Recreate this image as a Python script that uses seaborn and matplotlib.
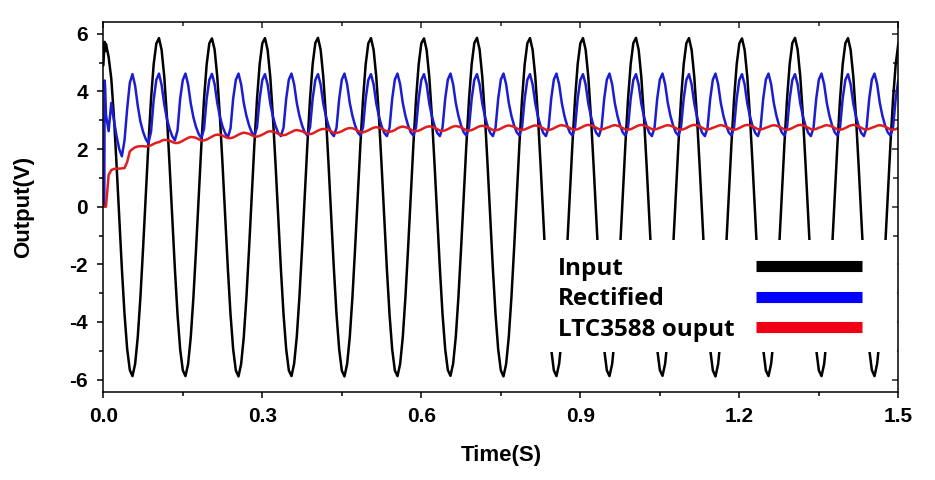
import numpy as np
import pandas as pd
import matplotlib
matplotlib.use("Agg")
import matplotlib.pyplot as plt
import seaborn as sns
from matplotlib.patches import Rectangle
from matplotlib.font_manager import FontProperties

# ---------------- data ----------------
series_names = ["Input", "Rectified", "LTC3588 ouput"]
series_colors = ["#000000", "#1c1cd0", "#e01e1e"]
legend_colors = ["#000000", "#0000ff", "#f00014"]
x_ticks = [0.0, 0.3, 0.6, 0.9, 1.2, 1.5]
x_tick_labels = ["0.0", "0.3", "0.6", "0.9", "1.2", "1.5"]
y_ticks = [-6, -4, -2, 0, 2, 4, 6]
y_tick_labels = ["-6", "-4", "-2", "0", "2", "4", "6"]

# sample times: a few start-up samples, then every 5 ms up to 1.5 s
head_time = [0.0, 0.0018, 0.0025, 0.0035]
sample_step = 0.005
sample_count = 300

input_head = [4.90, 5.50, 5.72, 5.40]
input_rows = [  # 20 samples per row (0.1 s)
    [5.65, 5.20, 4.45, 3.13, 1.45, -0.37, -2.15, -3.73, -4.94, -5.67, -5.88, -5.46, -4.52, -3.14, -1.45, 0.37, 2.15, 3.73, 4.94, 5.66],  # 01
    [5.85, 5.44, 4.51, 3.13, 1.45, -0.37, -2.15, -3.74, -4.95, -5.68, -5.88, -5.46, -4.52, -3.14, -1.46, 0.37, 2.15, 3.73, 4.94, 5.67],  # 02
    [5.84, 5.45, 4.51, 3.12, 1.44, -0.38, -2.16, -3.74, -4.95, -5.68, -5.89, -5.46, -4.53, -3.14, -1.45, 0.37, 2.16, 3.74, 4.95, 5.67],  # 03
    [5.85, 5.44, 4.50, 3.12, 1.45, -0.37, -2.15, -3.73, -4.94, -5.68, -5.88, -5.45, -4.52, -3.13, -1.45, 0.38, 2.16, 3.74, 4.95, 5.68],  # 04
    [5.86, 5.45, 4.51, 3.13, 1.45, -0.37, -2.16, -3.74, -4.95, -5.69, -5.89, -5.46, -4.52, -3.14, -1.46, 0.37, 2.15, 3.73, 4.94, 5.67],  # 05
    [5.85, 5.44, 4.51, 3.13, 1.44, -0.38, -2.16, -3.74, -4.95, -5.68, -5.88, -5.46, -4.53, -3.14, -1.45, 0.37, 2.15, 3.73, 4.94, 5.67],  # 06
    [5.84, 5.44, 4.50, 3.12, 1.45, -0.37, -2.15, -3.73, -4.94, -5.67, -5.87, -5.45, -4.52, -3.13, -1.45, 0.38, 2.16, 3.74, 4.95, 5.68],  # 07
    [5.86, 5.45, 4.51, 3.13, 1.45, -0.37, -2.16, -3.74, -4.95, -5.68, -5.89, -5.46, -4.52, -3.14, -1.46, 0.37, 2.15, 3.73, 4.94, 5.67],  # 08
    [5.85, 5.44, 4.51, 3.13, 1.45, -0.37, -2.15, -3.73, -4.94, -5.68, -5.88, -5.45, -4.52, -3.13, -1.45, 0.37, 2.15, 3.73, 4.95, 5.67],  # 09
    [5.85, 5.45, 4.51, 3.12, 1.44, -0.38, -2.16, -3.74, -4.95, -5.68, -5.88, -5.46, -4.53, -3.14, -1.45, 0.37, 2.16, 3.74, 4.95, 5.68],  # 10
    [5.86, 5.45, 4.51, 3.13, 1.45, -0.37, -2.15, -3.73, -4.94, -5.67, -5.87, -5.45, -4.52, -3.13, -1.45, 0.37, 2.15, 3.73, 4.94, 5.67],  # 11
    [5.85, 5.44, 4.50, 3.12, 1.45, -0.37, -2.16, -3.74, -4.95, -5.68, -5.89, -5.46, -4.52, -3.14, -1.46, 0.37, 2.15, 3.73, 4.94, 5.67],  # 12
    [5.84, 5.44, 4.51, 3.13, 1.45, -0.37, -2.15, -3.73, -4.94, -5.68, -5.88, -5.45, -4.52, -3.13, -1.45, 0.38, 2.16, 3.74, 4.95, 5.68],  # 13
    [5.86, 5.45, 4.51, 3.13, 1.44, -0.38, -2.16, -3.74, -4.95, -5.68, -5.88, -5.46, -4.53, -3.14, -1.45, 0.37, 2.15, 3.73, 4.94, 5.67],  # 14
    [5.85, 5.44, 4.51, 3.13, 1.45, -0.37, -2.15, -3.73, -4.94, -5.67, -5.88, -5.45, -4.52, -3.13, -1.45, 0.37, 2.15, 3.73, 4.94, 5.67],  # 15
]

rectified_head = [0.00, 0.00, 4.38, 4.10]
rectified_rows = [  # 10 samples per row (0.05 s)
    [3.20, 2.62, 3.60, 3.00, 2.45, 2.00, 1.75, 2.30, 3.40, 4.30],  # 01
    [4.60, 4.20, 3.50, 2.95, 2.60, 2.35, 2.20, 2.60, 3.70, 4.40],  # 02
    [4.62, 4.22, 3.55, 3.05, 2.70, 2.45, 2.30, 2.65, 3.75, 4.40],  # 03
    [4.62, 4.24, 3.58, 3.10, 2.76, 2.52, 2.38, 2.70, 3.75, 4.40],  # 04
    [4.61, 4.25, 3.60, 3.12, 2.78, 2.55, 2.40, 2.72, 3.75, 4.40],  # 05
    [4.62, 4.25, 3.60, 3.15, 2.82, 2.58, 2.47, 2.75, 3.75, 4.40],  # 06
    [4.60, 4.24, 3.58, 3.13, 2.80, 2.56, 2.45, 2.74, 3.74, 4.41],  # 07
    [4.62, 4.25, 3.60, 3.15, 2.82, 2.58, 2.47, 2.75, 3.75, 4.40],  # 08
    [4.60, 4.24, 3.58, 3.13, 2.80, 2.56, 2.45, 2.74, 3.74, 4.41],  # 09
    [4.62, 4.25, 3.60, 3.15, 2.82, 2.58, 2.47, 2.75, 3.75, 4.40],  # 10
    [4.60, 4.24, 3.58, 3.13, 2.80, 2.56, 2.45, 2.74, 3.74, 4.41],  # 11
    [4.62, 4.25, 3.60, 3.15, 2.82, 2.58, 2.47, 2.75, 3.75, 4.40],  # 12
    [4.60, 4.24, 3.58, 3.13, 2.80, 2.56, 2.45, 2.74, 3.74, 4.41],  # 13
    [4.62, 4.25, 3.60, 3.15, 2.82, 2.58, 2.47, 2.75, 3.75, 4.40],  # 14
    [4.60, 4.24, 3.58, 3.13, 2.80, 2.56, 2.45, 2.74, 3.74, 4.41],  # 15
    [4.62, 4.25, 3.60, 3.15, 2.82, 2.58, 2.47, 2.75, 3.75, 4.40],  # 16
    [4.60, 4.24, 3.58, 3.13, 2.80, 2.56, 2.45, 2.74, 3.74, 4.41],  # 17
    [4.62, 4.25, 3.60, 3.15, 2.82, 2.58, 2.47, 2.75, 3.75, 4.40],  # 18
    [4.60, 4.24, 3.58, 3.13, 2.80, 2.56, 2.45, 2.74, 3.74, 4.41],  # 19
    [4.62, 4.25, 3.60, 3.15, 2.82, 2.58, 2.47, 2.75, 3.75, 4.40],  # 20
    [4.60, 4.24, 3.58, 3.13, 2.80, 2.56, 2.45, 2.74, 3.74, 4.41],  # 21
    [4.62, 4.25, 3.60, 3.15, 2.82, 2.58, 2.47, 2.75, 3.75, 4.40],  # 22
    [4.60, 4.24, 3.58, 3.13, 2.80, 2.56, 2.45, 2.74, 3.74, 4.41],  # 23
    [4.62, 4.25, 3.60, 3.15, 2.82, 2.58, 2.47, 2.75, 3.75, 4.40],  # 24
    [4.60, 4.24, 3.58, 3.13, 2.80, 2.56, 2.45, 2.74, 3.74, 4.41],  # 25
    [4.62, 4.25, 3.60, 3.15, 2.82, 2.58, 2.47, 2.75, 3.75, 4.40],  # 26
    [4.60, 4.24, 3.58, 3.13, 2.80, 2.56, 2.45, 2.74, 3.74, 4.41],  # 27
    [4.62, 4.25, 3.60, 3.15, 2.82, 2.58, 2.47, 2.75, 3.75, 4.40],  # 28
    [4.60, 4.24, 3.58, 3.13, 2.80, 2.56, 2.45, 2.74, 3.74, 4.41],  # 29
    [4.62, 4.25, 3.60, 3.15, 2.82, 2.58, 2.47, 2.75, 3.75, 4.40],  # 30
]

ltc_head = [0.00, 0.00, 0.00, 0.00]
ltc_rows = [  # 10 samples per row (0.05 s)
    [0.00, 1.10, 1.27, 1.31, 1.32, 1.32, 1.33, 1.34, 1.55, 1.92],  # 01
    [2.00, 2.06, 2.09, 2.10, 2.10, 2.09, 2.10, 2.13, 2.18, 2.22],  # 02
    [2.24, 2.29, 2.32, 2.31, 2.29, 2.25, 2.21, 2.21, 2.24, 2.29],  # 03
    [2.34, 2.39, 2.42, 2.41, 2.39, 2.34, 2.30, 2.30, 2.33, 2.38],  # 04
    [2.43, 2.48, 2.50, 2.49, 2.47, 2.42, 2.38, 2.38, 2.40, 2.45],  # 05
    [2.50, 2.54, 2.57, 2.55, 2.53, 2.48, 2.44, 2.43, 2.46, 2.50],  # 06
    [2.55, 2.60, 2.62, 2.60, 2.58, 2.53, 2.49, 2.48, 2.50, 2.55],  # 07
    [2.59, 2.64, 2.66, 2.64, 2.62, 2.57, 2.53, 2.52, 2.54, 2.59],  # 08
    [2.64, 2.68, 2.70, 2.69, 2.66, 2.61, 2.56, 2.56, 2.58, 2.62],  # 09
    [2.67, 2.71, 2.73, 2.72, 2.69, 2.64, 2.59, 2.58, 2.61, 2.65],  # 10
    [2.70, 2.74, 2.76, 2.74, 2.71, 2.66, 2.61, 2.60, 2.62, 2.66],  # 11
    [2.72, 2.76, 2.78, 2.76, 2.73, 2.68, 2.63, 2.62, 2.64, 2.68],  # 12
    [2.73, 2.77, 2.79, 2.77, 2.74, 2.69, 2.64, 2.63, 2.65, 2.69],  # 13
    [2.74, 2.78, 2.80, 2.78, 2.75, 2.70, 2.65, 2.64, 2.66, 2.70],  # 14
    [2.75, 2.79, 2.81, 2.79, 2.76, 2.71, 2.66, 2.65, 2.67, 2.71],  # 15
    [2.76, 2.80, 2.82, 2.80, 2.77, 2.72, 2.67, 2.66, 2.68, 2.72],  # 16
    [2.76, 2.80, 2.82, 2.80, 2.77, 2.72, 2.67, 2.66, 2.68, 2.72],  # 17
    [2.77, 2.81, 2.83, 2.81, 2.78, 2.73, 2.68, 2.67, 2.69, 2.73],  # 18
    [2.78, 2.82, 2.84, 2.82, 2.79, 2.74, 2.69, 2.68, 2.70, 2.74],  # 19
    [2.77, 2.81, 2.83, 2.81, 2.78, 2.73, 2.68, 2.67, 2.69, 2.73],  # 20
    [2.78, 2.82, 2.84, 2.82, 2.79, 2.74, 2.69, 2.68, 2.70, 2.74],  # 21
    [2.77, 2.81, 2.83, 2.81, 2.78, 2.73, 2.68, 2.67, 2.69, 2.73],  # 22
    [2.78, 2.82, 2.84, 2.82, 2.79, 2.74, 2.69, 2.68, 2.70, 2.74],  # 23
    [2.77, 2.81, 2.83, 2.81, 2.78, 2.73, 2.68, 2.67, 2.69, 2.73],  # 24
    [2.78, 2.82, 2.84, 2.82, 2.79, 2.74, 2.69, 2.68, 2.70, 2.74],  # 25
    [2.77, 2.81, 2.83, 2.81, 2.78, 2.73, 2.68, 2.67, 2.69, 2.73],  # 26
    [2.78, 2.82, 2.84, 2.82, 2.79, 2.74, 2.69, 2.68, 2.70, 2.74],  # 27
    [2.77, 2.81, 2.83, 2.81, 2.78, 2.73, 2.68, 2.67, 2.69, 2.73],  # 28
    [2.78, 2.82, 2.84, 2.82, 2.79, 2.74, 2.69, 2.68, 2.70, 2.74],  # 29
    [2.77, 2.81, 2.83, 2.81, 2.78, 2.73, 2.68, 2.67, 2.69, 2.73],  # 30
]

input_v = input_head + [v for row in input_rows for v in row]
rectified_v = rectified_head + [v for row in rectified_rows for v in row]
ltc_v = ltc_head + [v for row in ltc_rows for v in row]

time_s = np.concatenate([head_time, np.arange(1, sample_count + 1) * sample_step])

frames = []
for name, vals in zip(series_names, [input_v, rectified_v, ltc_v]):
    frames.append(pd.DataFrame({"Time": time_s, "Output": vals, "series": name}))
df = pd.concat(frames, ignore_index=True)

# ---------------- style ----------------
sns.set_theme(style="ticks")
plt.rcParams["font.family"] = ["Liberation Sans", "DejaVu Sans"]
plt.rcParams["font.weight"] = "bold"
plt.rcParams["axes.labelweight"] = "bold"

fig = plt.figure(figsize=(9.35, 4.8), dpi=100)
fig.patch.set_facecolor("white")
ax = fig.add_axes([0.1105, 0.184, 0.8503, 0.7708])
ax.set_facecolor("white")

sns.lineplot(data=df, x="Time", y="Output", hue="series", hue_order=series_names,
             palette=dict(zip(series_names, series_colors)), estimator=None,
             sort=False, linewidth=1.8, legend=False, ax=ax)

ax.set_xlim(0, 1.5)
ax.set_ylim(-6.42, 6.42)

x_minor = [0.15, 0.45, 0.75, 1.05, 1.35]
y_minor = [-5, -3, -1, 1, 3, 5]
ax.set_xticks(x_ticks)
ax.set_xticklabels(x_tick_labels)
ax.set_xticks(x_minor, minor=True)
ax.set_yticks(y_ticks)
ax.set_yticklabels(y_tick_labels)
ax.set_yticks(y_minor, minor=True)

ax.tick_params(axis="both", which="major", direction="out", length=4, width=1.1,
               labelsize=15, pad=7, color="black", labelcolor="black")
ax.tick_params(axis="both", which="minor", direction="out", length=3, width=1.1, color="black")
for lab in ax.get_xticklabels() + ax.get_yticklabels():
    lab.set_fontweight("bold")

# inward ticks on top and right
top = ax.secondary_xaxis("top")
top.set_xticks(x_ticks)
top.set_xticks(x_minor, minor=True)
top.tick_params(which="major", direction="in", length=4, width=1.1, labeltop=False)
top.tick_params(which="minor", direction="in", length=3, width=1.1)
top.spines["top"].set_visible(False)
right = ax.secondary_yaxis("right")
right.set_yticks(y_ticks)
right.set_yticks(y_minor, minor=True)
right.tick_params(which="major", direction="in", length=4.5, width=1.1, labelright=False)
right.tick_params(which="minor", direction="in", length=3.5, width=1.1)
right.spines["right"].set_visible(False)

for sp in ax.spines.values():
    sp.set_visible(True)
    sp.set_linewidth(1.1)
    sp.set_color("black")

ax.set_xlabel("Time(S)", fontsize=16, fontweight="bold", color="black")
ax.set_ylabel("Output(V)", fontsize=16, fontweight="bold", color="black")
ax.xaxis.set_label_coords(0.5, -0.145)
ax.yaxis.set_label_coords(-0.087, 0.5)

# white legend area
ax.add_patch(Rectangle((0.5493, 0.1073), 0.449, 0.3027, transform=ax.transAxes,
                       facecolor="white", edgecolor="none", zorder=3))

lines = ax.get_lines()[:3]
leg = ax.legend(lines, series_names, loc="upper left", bbox_to_anchor=(0.572, 0.365),
                frameon=False, markerfirst=False, borderpad=0, borderaxespad=0,
                handlelength=4.36, handletextpad=0.78, labelspacing=0.27,
                prop=FontProperties(family=["Open Sans", "DejaVu Sans"], weight="bold", size=17.5))
leg.set_zorder(5)
for h, c in zip(leg.legend_handles, legend_colors):
    h.set_linewidth(8)
    h.set_color(c)
    h.set_solid_capstyle("butt")
for t in leg.get_texts():
    t.set_color("black")
# label text flush left, handle bar flush right within each legend row
row_width_px = 862 - 558
try:
    for col in leg._legend_handle_box.get_children():
        col.align = "left"
        for row in col.get_children():
            row.mode = "expand"
            row.width = row_width_px
except Exception:
    pass

fig.savefig("out.png", dpi=100, facecolor="white")
